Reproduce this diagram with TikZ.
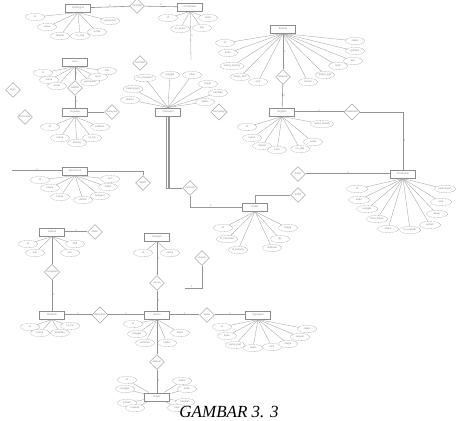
\documentclass[tikz,border=0pt]{standalone}
\usepackage{fontspec}
\setmainfont{Liberation Sans}
\newfontfamily\capfont{Liberation Serif}
\usetikzlibrary{shapes.geometric}

\begin{document}
\begin{tikzpicture}[
  x=1pt, y=-1pt,
  every node/.style={font=\fontsize{2.6}{3}\selectfont, text=gray!90, inner sep=0.5pt},
  ent/.style={rectangle, draw=gray!90, fill=white, minimum width=25, minimum height=8.5, line width=0.5pt},
  attr/.style={ellipse, draw=gray!80, dashed, dash pattern=on 0.8pt off 0.6pt, fill=white, minimum width=19, minimum height=7.5, line width=0.3pt},
  rel/.style={diamond, draw=gray!90, fill=white, minimum width=15, minimum height=15, aspect=1, line width=0.4pt},
  link/.style={draw=gray!85, line width=0.6pt},
  dlink/.style={draw=gray!85, double, double distance=0.7pt, line width=0.4pt},
  alink/.style={draw=gray!80, line width=0.3pt},
  card/.style={font=\fontsize{2.6}{3}\selectfont, text=gray}
]
  \useasboundingbox (0,0) rectangle (456,421);

  % Entities
  \node[ent] (pel) at (78,8) {Pelanggan};
  \node[ent] (ken) at (190,7) {Kendaraan};
  \node[ent] (usr) at (75,62) {User};
  \node[ent] (peg) at (75,112) {Pegawai};
  \node[ent] (trx) at (168,112) {Transaksi};
  \node[ent] (brg) at (283,29) {Barang};
  \node[ent] (spl) at (282,112) {Supplier};
  \node[ent] (pmb) at (403,174) {Pembelian};
  \node[ent] (jas) at (75,171) {Jasa Servis};
  \node[ent] (det) at (255,207) {Detail};
  \node[ent] (kat) at (157,237) {Kategori};
  \node[ent] (srv) at (157,315) {Servis};
  \node[ent] (mek) at (52,315) {Mekanik};
  \node[ent] (jad) at (52,232) {Jadwal};
  \node[ent] (spa) at (258,315) {Sparepart};
  \node[ent] (byr) at (157,397) {Bayar};

  % Relations
  \node[rel] (r1) at (137,6) {memiliki};
  \node[rel] (r2) at (140,63) {memiliki};
  \node[rel] (r3) at (112,112) {melayani};
  \node[rel] (r4) at (219,112) {mencakup};
  \node[rel] (r5) at (190,188) {memuat};
  \node[rel] (r6) at (143,183) {dipilih};
  \node[rel] (r7) at (13,90) {login};
  \node[rel] (r8) at (25,117) {mencatat};
  \node[rel] (r9) at (75,88) {adalah};
  \node[rel] (r10) at (283,77) {dipasok};
  \node[rel] (r11) at (352,112) {melakukan};
  \node[rel] (r12) at (298,174) {berisi};
  \node[rel] (r13) at (298,195) {terdiri};
  \node[rel] (r14) at (202,258) {masuk};
  \node[rel] (r15) at (157,283) {punya};
  \node[rel] (r16) at (100,315) {dikerjakan};
  \node[rel] (r17) at (207,315) {pakai};
  \node[rel] (r18) at (157,362) {dibayar};
  \node[rel] (r19) at (52,272) {mengikuti};
  \node[rel] (r20) at (95,232) {diatur};

  % Attributes
  \foreach \x/\y/\t [count=\k] in {35/17/id, 47/27/nama, 60/36/alamat, 80/36/no\_telp, 97/32/email, 110/21/password}{
    \node[attr] (pel-\k) at (\x,\y) {\t};
    \draw[alink] (pel.south) -- (pel-\k);
  }
  \foreach \x/\y/\t [count=\k] in {168/18/id, 180/29/no\_polisi, 208/18/merk, 202/28/tipe}{
    \node[attr] (ken-\k) at (\x,\y) {\t};
    \draw[alink] (ken.south) -- (ken-\k);
  }
  \foreach \x/\y/\t [count=\k] in {43/73/id, 49/80/nama, 57/86/email, 90/82/password, 98/77/level, 107/71/foto}{
    \node[attr] (usr-\k) at (\x,\y) {\t};
    \draw[alink] (usr.south) -- (usr-\k);
  }
  \foreach \x/\y/\t [count=\k] in {50/127/id, 60/138/nama, 77/143/alamat, 92/138/no\_hp, 100/127/jabatan}{
    \node[attr] (peg-\k) at (\x,\y) {\t};
    \draw[alink] (peg.south) -- (peg-\k);
  }
  \foreach \x/\y/\t [count=\k] in {145/78/no\_transaksi, 170/75/tanggal, 192/75/total, 208/84/bayar, 218/93/kembali, 205/102/status, 133/89/keterangan, 130/100/diskon}{
    \node[attr] (trx-\k) at (\x,\y) {\t};
    \draw[alink] (trx.north) -- (trx-\k);
  }
  \foreach \x/\y/\t [count=\k] in {225/43/id, 228/53/kode, 232/66/nama\_barang, 240/77/harga\_beli, 258/82/stok, 308/82/satuan, 325/75/harga\_jual, 338/66/merk, 353/61/tipe, 355/51/gambar, 355/41/status}{
    \node[attr] (brg-\k) at (\x,\y) {\t};
    \draw[alink] (brg.south) -- (brg-\k);
  }
  \foreach \x/\y/\t [count=\k] in {247/127/id, 252/138/nama, 262/146/alamat, 277/150/kota, 300/149/no\_telp, 313/142/email, 322/124/nama\_kontak}{
    \node[attr] (spl-\k) at (\x,\y) {\t};
    \draw[alink] (spl.south) -- (spl-\k);
  }
  \foreach \x/\y/\t [count=\k] in {357/189/id, 359/200/kode, 367/209/tanggal, 377/219/total\_harga, 388/229/status, 410/230/id\_supplier, 430/225/jumlah, 437/214/bayar, 441/202/sisa, 445/189/keterangan}{
    \node[attr, minimum width=21] (pmb-\k) at (\x,\y) {\t};
    \draw[alink] (pmb.south) -- (pmb-\k);
  }
  \foreach \x/\y/\t [count=\k] in {40/180/id, 50/188/nama, 60/197/harga, 83/200/durasi, 100/196/kategori, 108/187/status, 110/179/ket}{
    \node[attr] (jas-\k) at (\x,\y) {\t};
    \draw[alink] (jas.south) -- (jas-\k);
  }
  \foreach \x/\y/\t [count=\k] in {223/228/id, 227/239/id\_transaksi, 238/250/id\_barang, 272/248/subtotal, 280/239/qty, 288/228/harga}{
    \node[attr] (det-\k) at (\x,\y) {\t};
    \draw[alink] (det.south) -- (det-\k);
  }
  \foreach \x/\y/\t [count=\k] in {143/253/id, 170/253/nama}{
    \node[attr] (kat-\k) at (\x,\y) {\t};
    \draw[alink] (kat.south) -- (kat-\k);
  }
  \foreach \x/\y/\t [count=\k] in {133/324/id, 137/334/tanggal, 145/343/keluhan, 167/343/status, 180/333/biaya}{
    \node[attr] (srv-\k) at (\x,\y) {\t};
    \draw[alink] (srv.south) -- (srv-\k);
  }
  \foreach \x/\y/\t [count=\k] in {30/327/id, 40/333/nama, 60/333/keahlian, 70/326/no\_hp}{
    \node[attr] (mek-\k) at (\x,\y) {\t};
    \draw[alink] (mek.south) -- (mek-\k);
  }
  \foreach \x/\y/\t [count=\k] in {28/244/id, 35/253/hari, 70/253/jam, 75/244/shift}{
    \node[attr] (jad-\k) at (\x,\y) {\t};
    \draw[alink] (jad.south) -- (jad-\k);
  }
  \foreach \x/\y/\t [count=\k] in {222/327/id, 227/336/kode, 235/345/nama\_part, 253/348/merk, 272/347/stok, 288/344/harga, 300/337/satuan, 307/329/status}{
    \node[attr] (spa-\k) at (\x,\y) {\t};
    \draw[alink] (spa.south) -- (spa-\k);
  }
  \foreach \x/\y/\t [count=\k] in {127/380/id, 125/389/tanggal, 127/403/jumlah, 135/408/metode, 182/381/status, 187/389/bukti, 185/402/kembali, 177/408/total}{
    \node[attr] (byr-\k) at (\x,\y) {\t};
    \draw[alink] (byr) -- (byr-\k);
  }

  % Connections
  \coordinate (kenend) at (191,60);
  \coordinate (jasin) at (12,171);
  \coordinate (r14end) at (185,288);
  \draw[link] (pel) -- node[card, above] {1} (r1);
  \draw[link] (r1) -- node[card, above] {n} (ken);
  \draw[alink] (ken) -- node[card, right] {n} (kenend);
  \draw[link] (usr) -- node[card, right] {1} (r9);
  \draw[link] (r9) -- node[card, right] {1} (peg);
  \draw[link] (peg) -- (r3);
  \foreach \dx in {-1.6,0,1.6}
    \draw[link, line width=0.45pt] ([xshift=\dx]trx.south) |- (r5.west);
  \draw[dlink] (jasin) -- node[card, above] {n} (jas);
  \draw[link] (jas) -| (r6.north);
  \draw[link] (brg) -- node[card, right] {1} (r10);
  \draw[link] (r10) -- node[card, right] {1} (spl);
  \draw[dlink] (spl) -- node[card, above] {1} (r11);
  \draw[link] (r11) -| node[card, right, pos=0.75] {n} (pmb.north);
  \draw[dlink] (r12) -- node[card, above] {1} (pmb);
  \draw[alink] (r13.west) -| (det.north);
  \draw[alink] (r5.south) |- node[card, above, pos=0.7] {1} (det.west);
  \draw[link] (r14.south) |- node[card, above, pos=0.8] {1} (r14end);
  \draw[link] (kat) -- node[card, right] {1} (r15);
  \draw[link] (r15) -- node[card, right] {n} (srv);
  \draw[dlink] (mek) -- node[card, above] {1} (r16);
  \draw[dlink] (r16) -- node[card, above] {n} (srv);
  \draw[dlink] (srv) -- node[card, above] {n} (r17);
  \draw[dlink] (r17) -- node[card, above] {n} (spa);
  \draw[link] (srv) -- (r18);
  \draw[link] (r18) -- node[card, right] {1} (byr);
  \draw[dlink] (jad) -- node[card, above] {1} (r20);
  \draw[link] (jad) -- (r19);
  \draw[link] (r19) -- node[card, right] {n} (mek);

  % Caption
  \node[font=\capfont\itshape\fontsize{17}{20}\selectfont, text=black] (cap) at (229,412) {GAMBAR 3. 3};
\end{tikzpicture}
\end{document}
